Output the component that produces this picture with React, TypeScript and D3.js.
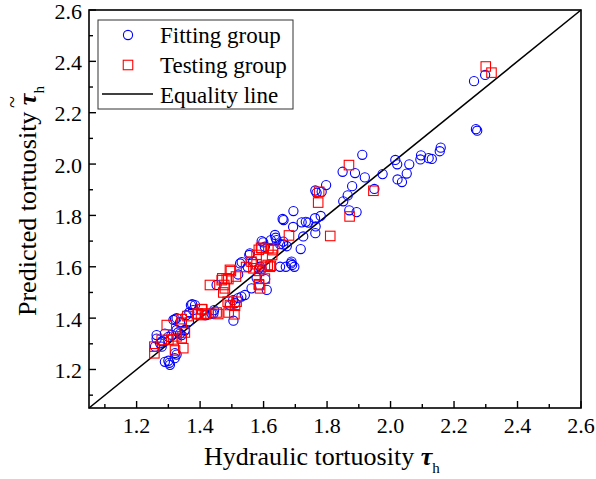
import React from "react";
import * as d3 from "d3";

// Fitting group: [hydraulic tortuosity, predicted tortuosity]
const fittingX = [
  2.298, 2.263, 2.269, 2.273,
  1.911, 1.849, 1.888, 1.919, 1.975, 2.015, 2.021, 2.059, 2.051, 2.022, 2.036, 2.096, 2.094, 2.12, 2.13, 2.158, 2.155, 1.879, 1.865, 1.949, 1.851, 1.87, 1.893,
  1.797, 1.763, 1.783, 1.767, 1.694, 1.66, 1.663, 1.693, 1.72, 1.733, 1.741, 1.762, 1.78, 1.764, 1.763, 1.725, 1.717, 1.636, 1.638, 1.641, 1.662, 1.673, 1.599, 1.652, 1.686, 1.69, 1.652, 1.67, 1.697, 1.688, 1.662,
  1.594, 1.604, 1.623, 1.557, 1.531, 1.55, 1.52, 1.452, 1.578, 1.605, 1.61, 1.562, 1.541, 1.53, 1.594, 1.586, 1.555, 1.567, 1.589, 1.526, 1.52, 1.51,
  1.505, 1.504, 1.494, 1.384, 1.375, 1.371, 1.366, 1.378, 1.415, 1.436, 1.444, 1.42, 1.442, 1.357, 1.352, 1.337,
  1.321, 1.337, 1.365, 1.263, 1.289, 1.3, 1.342, 1.331, 1.352, 1.274, 1.258, 1.326, 1.3, 1.303, 1.32,
  1.263, 1.279, 1.289, 1.305, 1.321, 1.326, 1.326, 1.316, 1.28, 1.31,
];
const fittingY = [
  2.347, 2.323, 2.136, 2.13,
  2.036, 1.97, 1.965, 1.948, 1.961, 2.016, 1.999, 1.999, 1.963, 1.94, 1.93, 2.034, 2.018, 2.023, 2.02, 2.064, 2.05, 1.914, 1.878, 1.903, 1.855, 1.82, 1.813,
  1.918, 1.897, 1.892, 1.888, 1.817, 1.786, 1.782, 1.755, 1.773, 1.775, 1.772, 1.789, 1.798, 1.757, 1.731, 1.718, 1.669, 1.724, 1.713, 1.704, 1.687, 1.68, 1.695, 1.688, 1.613, 1.607, 1.6, 1.6, 1.6, 1.62, 1.698,
  1.7, 1.678, 1.704, 1.652, 1.618, 1.599, 1.57, 1.529, 1.557, 1.552, 1.51, 1.516, 1.49, 1.484, 1.59, 1.593, 1.646, 1.62, 1.6, 1.613, 1.478, 1.458,
  1.39, 1.47, 1.451, 1.451, 1.454, 1.451, 1.422, 1.431, 1.412, 1.418, 1.431, 1.412, 1.418, 1.412, 1.354, 1.34,
  1.396, 1.384, 1.388, 1.334, 1.34, 1.327, 1.334, 1.344, 1.351, 1.302, 1.289, 1.258, 1.234, 1.226, 1.244,
  1.32, 1.289, 1.23, 1.218, 1.264, 1.354, 1.4, 1.393, 1.31, 1.335,
];

// Testing group
const testingX = [
  2.3, 2.318, 1.869, 1.946, 1.871, 1.775, 1.772, 1.68, 1.81,
  1.592, 1.63, 1.627, 1.62, 1.562, 1.578, 1.585, 1.578, 1.545, 1.568, 1.604, 1.613, 1.623,
  1.497, 1.47, 1.484, 1.431, 1.476, 1.478, 1.585, 1.487, 1.494, 1.515, 1.51, 1.508, 1.49,
  1.405, 1.415, 1.452, 1.457, 1.394, 1.36, 1.392, 1.407, 1.418, 1.342, 1.342, 1.295,
  1.279, 1.3, 1.315, 1.326, 1.342, 1.352, 1.256, 1.256, 1.321, 1.347,
  1.594, 1.615, 1.629, 1.586, 1.604, 1.586, 1.589, 1.494, 1.489, 1.473, 1.513, 1.468, 1.403,
];
const testingY = [
  2.38, 2.356, 1.996, 1.896, 1.796, 1.892, 1.85, 1.722, 1.72,
  1.674, 1.672, 1.646, 1.6, 1.62, 1.61, 1.666, 1.646, 1.599, 1.594, 1.6, 1.607, 1.604,
  1.583, 1.555, 1.555, 1.529, 1.529, 1.516, 1.532, 1.464, 1.451, 1.464, 1.448, 1.415, 1.422,
  1.435, 1.418, 1.422, 1.416, 1.415, 1.408, 1.418, 1.434, 1.416, 1.396, 1.382, 1.373,
  1.315, 1.315, 1.317, 1.329, 1.322, 1.344, 1.289, 1.263, 1.274, 1.283,
  1.672, 1.672, 1.665, 1.584, 1.554, 1.529, 1.516, 1.588, 1.552, 1.5, 1.562, 1.548, 1.412,
];

const majorTicks = [1.2, 1.4, 1.6, 1.8, 2.0, 2.2, 2.4, 2.6];
const minorTicks = [1.1, 1.3, 1.5, 1.7, 1.9, 2.1, 2.3, 2.5];
const domain = [1.05, 2.6];
const legendLabels = ["Fitting group", "Testing group", "Equality line"];

const W = 596;
const H = 479;
const L = 89, R = 581, T = 10, B = 408;
const FONT = "'Liberation Serif', 'Times New Roman', serif";

export default function App() {
  const x = d3.scaleLinear().domain(domain).range([L, R]);
  const y = d3.scaleLinear().domain(domain).range([B, T]);
  const fitting = fittingX.map((v, i) => [v, fittingY[i]]);
  const testing = testingX.map((v, i) => [v, testingY[i]]);
  const line = d3.line<number[]>().x((d) => x(d[0])).y((d) => y(d[1]));
  const sq = 9.5;

  return (
    <svg
      width={W}
      height={H}
      style={{ position: "absolute", left: 0, top: 0, background: "#fff" }}
      fontFamily={FONT}
    >
      <rect x={0} y={0} width={W} height={H} fill="#fff" />
      {/* equality line */}
      <path d={line([[domain[0], domain[0]], [domain[1], domain[1]]]) || ""} stroke="#000" strokeWidth={1.6} fill="none" />
      {/* fitting */}
      {fitting.map((d, i) => (
        <circle key={"f" + i} cx={x(d[0])} cy={y(d[1])} r={4.6} fill="none" stroke="#0000ff" strokeWidth={1.1} />
      ))}
      {/* testing */}
      {testing.map((d, i) => (
        <rect key={"t" + i} x={x(d[0]) - sq / 2} y={y(d[1]) - sq / 2} width={sq} height={sq} fill="none" stroke="#ff0000" strokeWidth={1.1} />
      ))}
      {/* frame */}
      <rect x={L} y={T} width={R - L} height={B - T} fill="none" stroke="#000" strokeWidth={1.6} />
      {/* x ticks */}
      {majorTicks.map((t) => (
        <g key={"xt" + t}>
          <line x1={x(t)} x2={x(t)} y1={B} y2={B - 7} stroke="#000" strokeWidth={1.4} />
          <text x={x(t)} y={433} fontSize={22} textAnchor="middle">{t.toFixed(1)}</text>
        </g>
      ))}
      {minorTicks.map((t) => (
        <line key={"xm" + t} x1={x(t)} x2={x(t)} y1={B} y2={B - 4} stroke="#000" strokeWidth={1.4} />
      ))}
      {/* y ticks */}
      {majorTicks.map((t) => (
        <g key={"yt" + t}>
          <line x1={L} x2={L + 7} y1={y(t)} y2={y(t)} stroke="#000" strokeWidth={1.4} />
          <text x={82} y={y(t) + 8.5} fontSize={22} textAnchor="end">{t.toFixed(1)}</text>
        </g>
      ))}
      {minorTicks.map((t) => (
        <line key={"ym" + t} x1={L} x2={L + 4} y1={y(t)} y2={y(t)} stroke="#000" strokeWidth={1.4} />
      ))}
      {/* x label */}
      <text x={204} y={465} fontSize={26}>
        Hydraulic tortuosity{" "}
        <tspan fontWeight="bold" fontStyle="italic">τ</tspan>
        <tspan fontSize={15} dy={8}>h</tspan>
      </text>
      {/* y label */}
      <g transform="translate(36,316) rotate(-90)">
        <text x={0} y={0} fontSize={26}>
          Predicted tortuosity{" "}
          <tspan fontWeight="bold" fontStyle="italic">τ</tspan>
          <tspan fontSize={15} dy={8}>h</tspan>
        </text>
        <text x={208} y={-17} fontSize={22}>~</text>
      </g>
      {/* legend */}
      <rect x={98} y={20} width={195} height={89} fill="#fff" stroke="#333" strokeWidth={1} />
      <circle cx={128} cy={35} r={4.6} fill="none" stroke="#0000ff" strokeWidth={1.1} />
      <text x={160} y={43} fontSize={23}>{legendLabels[0]}</text>
      <rect x={128 - sq / 2} y={65 - sq / 2} width={sq} height={sq} fill="none" stroke="#ff0000" strokeWidth={1.1} />
      <text x={160} y={73} fontSize={23}>{legendLabels[1]}</text>
      <line x1={102} x2={153} y1={94} y2={94} stroke="#000" strokeWidth={1.6} />
      <text x={160} y={103} fontSize={23}>{legendLabels[2]}</text>
    </svg>
  );
}
